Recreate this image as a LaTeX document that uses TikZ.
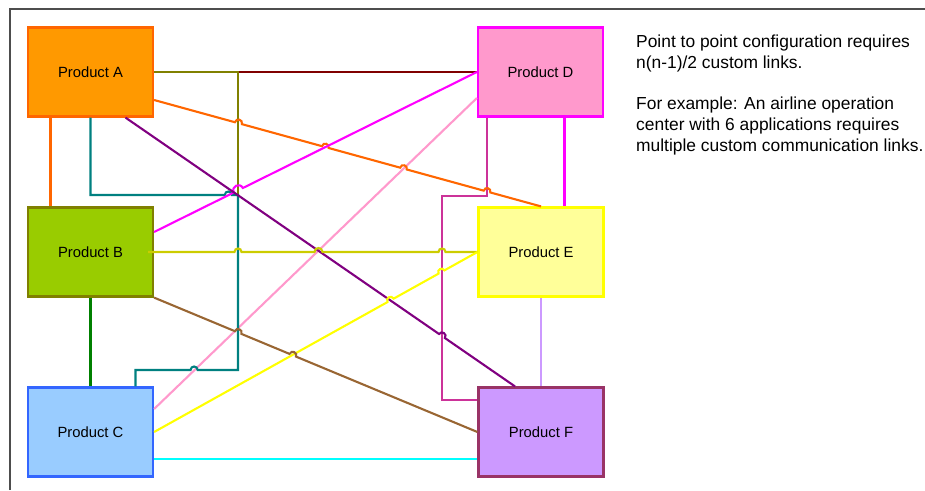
\documentclass[tikz,border=0pt]{standalone}
\usepackage{fontspec}
\setmainfont{Liberation Sans}
\usetikzlibrary{calc}

\definecolor{frameGray}{HTML}{4D4D4D}
\definecolor{aFill}{HTML}{FF9900}
\definecolor{aLine}{HTML}{FF6600}
\definecolor{bFill}{HTML}{99CC00}
\definecolor{bLine}{HTML}{808000}
\definecolor{cFill}{HTML}{99CCFF}
\definecolor{cLine}{HTML}{3366FF}
\definecolor{dFill}{HTML}{FF99CC}
\definecolor{dLine}{HTML}{FF00FF}
\definecolor{eFill}{HTML}{FFFF99}
\definecolor{eLine}{HTML}{FFFF00}
\definecolor{fFill}{HTML}{CC99FF}
\definecolor{fLine}{HTML}{993366}
\definecolor{lnOrange}{HTML}{FF6600}
\definecolor{lnTeal}{HTML}{008080}
\definecolor{lnDarkRed}{HTML}{800000}
\definecolor{lnOlive}{HTML}{808000}
\definecolor{lnPurple}{HTML}{800080}
\definecolor{lnGreen}{HTML}{008000}
\definecolor{lnMagenta}{HTML}{FF00FF}
\definecolor{lnMustard}{HTML}{CCCC00}
\definecolor{lnBrown}{HTML}{996633}
\definecolor{lnPink}{HTML}{FF99CC}
\definecolor{lnYellow}{HTML}{FFFF00}
\definecolor{lnCyan}{HTML}{00FFFF}
\definecolor{lnPlum}{HTML}{CC3399}
\definecolor{lnLavender}{HTML}{CC99FF}

\begin{document}
\begin{tikzpicture}[x=1pt, y=-1pt,
  product/.style={draw, line width=2.2pt, minimum width=125pt, minimum height=89pt,
                  inner sep=0pt, font=\fontsize{14.8}{17}\selectfont},
  link/.style={line width=2.1pt},
  hop/.style={bend left=90, looseness=1.7},
  hopback/.style={bend right=90, looseness=1.7}]
  \useasboundingbox (0,0) rectangle (925,490);

  % Frame
  \draw[frameGray, line width=2.6pt] (10,490) -- (10,9) -- (925,9);

  % Products
  \node[product, fill=aFill, draw=aLine] (A) at (90.5,72) {Product A};
  \node[product, fill=bFill, draw=bLine] (B) at (90.5,252) {Product B};
  \node[product, fill=cFill, draw=cLine] (C) at (90.5,432) {Product C};
  \node[product, fill=dFill, draw=dLine] (D) at (540.5,72) {Product D};
  \node[product, fill=eFill, draw=eLine] (E) at (541,252) {Product E};
  \node[product, fill=fFill, draw=fLine] (F) at (541,432) {Product F};

  % Straight links
  \draw[link, lnOrange] ([xshift=-40pt]A.south) -- ([xshift=-40pt]B.north);
  \draw[link, lnGreen] (B.south) -- (C.north);
  \draw[link, lnDarkRed] (A.east) -- (D.west);
  \draw[link, lnOlive] (A.east) -- (238,72) -- (238,195);
  \draw[link, lnMagenta] ([xshift=24pt]D.south) -- ([xshift=24pt]D.south |- E.north);
  \draw[link, lnLavender] (E.south) -- (F.north);
  \draw[link, lnCyan] ([yshift=-27pt]C.east) -- ([yshift=-27pt]F.west);
  \draw[link, lnPink] ([yshift=23pt]C.east) -- ([yshift=-26pt]D.west);

  % D to F, elbow
  \draw[link, lnPlum] ([xshift=-53.5pt]D.south) -- (487,196) -- (442,196) -- (442,400)
    -- ([yshift=32pt]F.west);

  % A to C, elbow with hops
  \draw[link, lnTeal] (A.south) -- (90.5,195) -- (224.8,195) to[hop] (231.8,195)
    -- (238,195) -- (238,370) -- (197.6,370) to[hopback] (190.6,370)
    -- (135.5,370) -- ([xshift=45pt]C.north);

  % Diagonal links with hops
  \coordinate (ae) at ([yshift=-28pt]A.east);
  \draw[link, lnOrange] (ae) -- ($(ae)!0.209!(E.north)$) to[hop] ($(ae)!0.227!(E.north)$)
    -- ($(ae)!0.434!(E.north)$) to[hop] ($(ae)!0.451!(E.north)$)
    -- ($(ae)!0.636!(E.north)$) to[hop] ($(ae)!0.653!(E.north)$)
    -- ($(ae)!0.852!(E.north)$) to[hop] ($(ae)!0.869!(E.north)$) -- (E.north);

  \coordinate (bd) at ([yshift=20pt]B.east);
  \draw[link, lnMagenta] (bd) -- ($(bd)!0.247!(D.west)$) to[hop] ($(bd)!0.275!(D.west)$)
    -- (D.west);

  \coordinate (af) at ([xshift=35pt]A.south);
  \coordinate (fa) at ([xshift=-26pt]F.north);
  \draw[link, lnPurple] (af) -- ($(af)!0.805!(fa)$) to[hop] ($(af)!0.820!(fa)$) -- (fa);

  \draw[link, lnMustard] ([xshift=-6pt]B.east) -- (234.5,252) to[hop] (241.5,252)
    -- (314.5,252) to[hop] (322.5,252) -- (438.5,252) to[hop] (445.5,252) -- (E.west);

  \draw[link, lnYellow] (C.east) -- ($(C.east)!0.722!(E.west)$) to[hop] ($(C.east)!0.741!(E.west)$)
    -- ($(C.east)!0.880!(E.west)$) to[hop] ($(C.east)!0.898!(E.west)$) -- (E.west);

  \draw[link, lnBrown] (B.south east) -- ($(B.south east)!0.250!(F.west)$) to[hop] ($(B.south east)!0.270!(F.west)$)
    -- ($(B.south east)!0.419!(F.west)$) to[hop] ($(B.south east)!0.439!(F.west)$) -- (F.west);

  % Note
  \node[anchor=north west, inner sep=0pt, align=left, font=\fontsize{17.4}{20.7}\selectfont]
    (note) at (636,35) {Point to point configuration requires\\ n(n-1)/2 custom links.\\[20.7pt]
    For example: An airline operation\\ center with 6 applications requires\\
    multiple custom communication links.};

\end{tikzpicture}
\end{document}
